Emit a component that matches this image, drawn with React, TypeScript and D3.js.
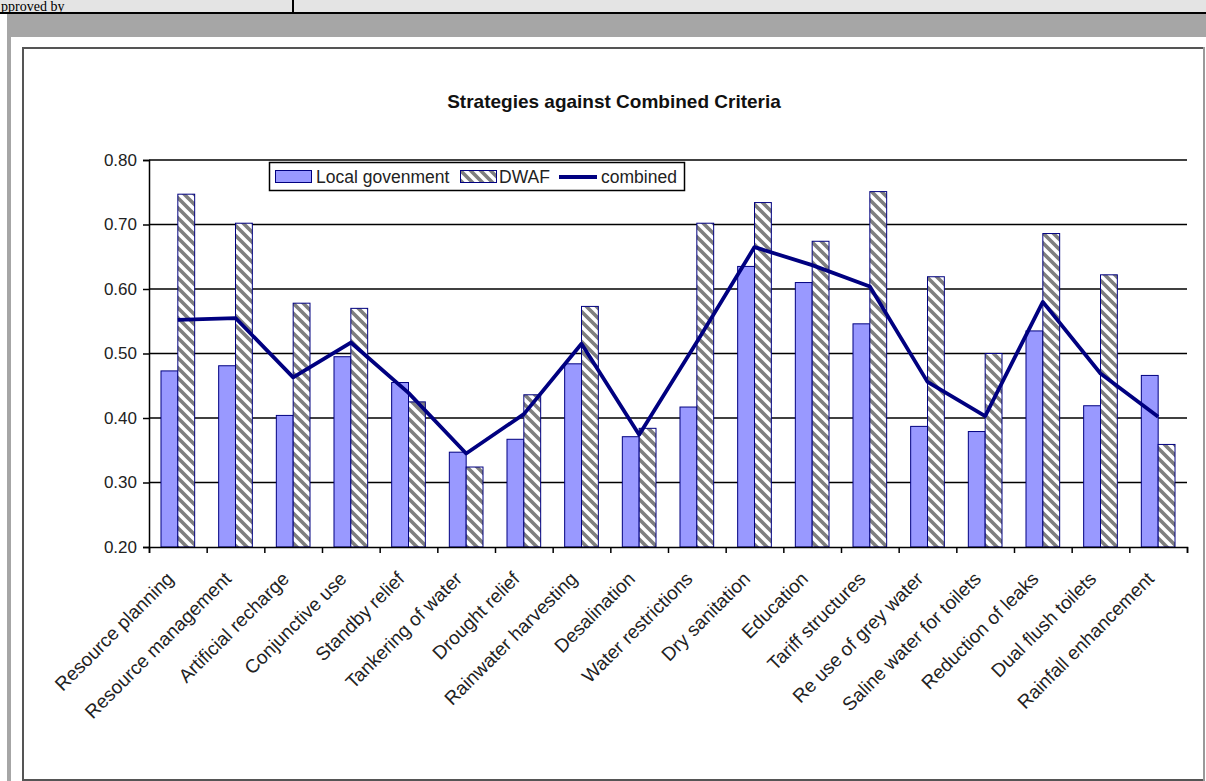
import React, { useRef, useEffect } from "react";
import * as d3 from "d3";

const categories = [
  "Resource planning",
  "Resource management",
  "Artificial recharge",
  "Conjunctive use",
  "Standby relief",
  "Tankering of water",
  "Drought relief",
  "Rainwater harvesting",
  "Desalination",
  "Water restrictions",
  "Dry sanitation",
  "Education",
  "Tariff structures",
  "Re use of grey water",
  "Saline water for toilets",
  "Reduction of leaks",
  "Dual flush toilets",
  "Rainfall enhancement",
];

const localGov = [
  0.473, 0.481, 0.404, 0.495, 0.455, 0.347, 0.367, 0.484, 0.371, 0.417, 0.635,
  0.61, 0.546, 0.387, 0.379, 0.535, 0.419, 0.466,
];

const dwaf = [
  0.747, 0.702, 0.578, 0.57, 0.425, 0.324, 0.436, 0.573, 0.384, 0.702, 0.734,
  0.674, 0.751, 0.619, 0.5, 0.686, 0.622, 0.359,
];

const combined = [
  0.552, 0.555, 0.463, 0.517, 0.439, 0.345, 0.406, 0.515, 0.374, 0.518, 0.665,
  0.637, 0.604, 0.456, 0.403, 0.58, 0.469, 0.402,
];

const yTicks = [0.2, 0.3, 0.4, 0.5, 0.6, 0.7, 0.8];
const legendLabels = ["Local govenment", "DWAF", "combined"];

const FONT = "'Liberation Sans', Arial, sans-serif";

const App = () => {
  const svgRef = useRef<SVGSVGElement>(null);

  useEffect(() => {
    const width = 1206;
    const height = 781;
    const plot = { left: 149, right: 1187, top: 160, bottom: 547 };

    const svg = d3.select(svgRef.current);
    svg.selectAll("*").remove();
    svg.attr("width", width).attr("height", height);

    // pattern for the DWAF bars (wide downward diagonal)
    const defs = svg.append("defs");
    const pat = defs
      .append("pattern")
      .attr("id", "hatch")
      .attr("patternUnits", "userSpaceOnUse")
      .attr("width", 10)
      .attr("height", 10);
    pat.append("rect").attr("width", 10).attr("height", 10).attr("fill", "#fff");
    pat
      .append("path")
      .attr("d", "M-2,-2L12,12M-2,8L2,12M8,-2L12,2")
      .attr("stroke", "#7f7f7f")
      .attr("stroke-width", 3.6);

    // page furniture around the chart
    svg.append("rect").attr("width", width).attr("height", height).attr("fill", "#fff");
    svg.append("rect").attr("x", 0).attr("y", 0).attr("width", width).attr("height", 12).attr("fill", "#e4e4e4");
    svg
      .append("text")
      .attr("x", 1)
      .attr("y", 10.5)
      .attr("font-family", "'Liberation Serif', serif")
      .attr("font-size", 14)
      .text("pproved by");
    svg.append("rect").attr("x", 0).attr("y", 12).attr("width", width).attr("height", 2).attr("fill", "#000");
    svg.append("rect").attr("x", 292).attr("y", 0).attr("width", 2).attr("height", 13).attr("fill", "#000");
    svg.append("rect").attr("x", 7).attr("y", 14).attr("width", width - 7).attr("height", 23).attr("fill", "#a6a6a6");
    svg.append("rect").attr("x", 7).attr("y", 37).attr("width", 4).attr("height", height - 37).attr("fill", "#a6a6a6");

    // chart frame
    svg
      .append("rect")
      .attr("x", 23)
      .attr("y", 48)
      .attr("width", 1181)
      .attr("height", 732)
      .attr("fill", "#fff")
      .attr("stroke", "#555")
      .attr("stroke-width", 2);
    svg.append("line").attr("x1", 1204).attr("x2", 1204).attr("y1", 47).attr("y2", height).attr("stroke", "#999").attr("stroke-width", 2);

    // scales
    const x = d3
      .scaleBand()
      .domain(categories)
      .range([plot.left, plot.right])
      .paddingInner(0.416)
      .paddingOuter(0.208);
    const xSub = d3
      .scaleBand()
      .domain(["local", "dwaf"])
      .range([0, x.bandwidth()]);
    const xEdge = d3
      .scaleLinear()
      .domain([0, categories.length])
      .range([plot.left, plot.right]);
    const y = d3.scaleLinear().domain([0.2, 0.8]).range([plot.bottom, plot.top]);

    // title
    svg
      .append("text")
      .attr("x", 614)
      .attr("y", 101)
      .attr("text-anchor", "middle")
      .attr("dominant-baseline", "central")
      .attr("font-family", FONT)
      .attr("font-weight", "bold")
      .attr("font-size", 19)
      .attr("fill", "#111")
      .text("Strategies against Combined Criteria");

    // gridlines
    svg
      .append("g")
      .selectAll("line")
      .data(yTicks.slice(1))
      .enter()
      .append("line")
      .attr("x1", plot.left)
      .attr("x2", plot.right)
      .attr("y1", (d) => y(d))
      .attr("y2", (d) => y(d))
      .attr("stroke", "#000")
      .attr("stroke-width", 1.5);

    // y axis
    const yAxis = svg
      .append("g")
      .attr("transform", `translate(${plot.left},0)`)
      .call(d3.axisLeft(y).tickValues(yTicks).tickFormat(d3.format(".2f")).tickSize(6).tickPadding(6));
    yAxis.select(".domain").attr("stroke", "#000").attr("stroke-width", 1.5);
    yAxis.selectAll(".tick line").attr("stroke", "#000").attr("stroke-width", 1.5);
    yAxis
      .selectAll(".tick text")
      .attr("font-family", FONT)
      .attr("font-size", 17)
      .attr("fill", "#222");

    // bars
    const bars = svg.append("g");
    bars
      .selectAll(".local")
      .data(localGov)
      .enter()
      .append("rect")
      .attr("x", (_, i) => x(categories[i])! + xSub("local")!)
      .attr("y", (d) => y(d))
      .attr("width", xSub.bandwidth())
      .attr("height", (d) => y(0.2) - y(d))
      .attr("fill", "#9999ff")
      .attr("stroke", "#000080")
      .attr("stroke-width", 1);
    bars
      .selectAll(".dwaf")
      .data(dwaf)
      .enter()
      .append("rect")
      .attr("x", (_, i) => x(categories[i])! + xSub("dwaf")!)
      .attr("y", (d) => y(d))
      .attr("width", xSub.bandwidth())
      .attr("height", (d) => y(0.2) - y(d))
      .attr("fill", "url(#hatch)")
      .attr("stroke", "#000080")
      .attr("stroke-width", 1);

    // x axis
    const xAxis = svg
      .append("g")
      .attr("transform", `translate(0,${plot.bottom})`)
      .call(
        d3
          .axisBottom(xEdge)
          .tickValues(d3.range(categories.length + 1))
          .tickSize(6)
          .tickFormat(() => "")
      );
    xAxis.select(".domain").attr("stroke", "#000").attr("stroke-width", 1.5);
    xAxis.selectAll(".tick line").attr("stroke", "#000").attr("stroke-width", 1.5);

    svg
      .append("g")
      .selectAll("text")
      .data(categories)
      .enter()
      .append("text")
      .attr("transform", (d) => `translate(${x(d)! + x.bandwidth() / 2 - 3},${plot.bottom + 33}) rotate(-45)`)
      .attr("text-anchor", "end")
      .attr("font-family", FONT)
      .attr("font-size", 19)
      .attr("fill", "#222")
      .text((d) => d);

    // combined line
    const line = d3
      .line<number>()
      .x((_, i) => x(categories[i])! + x.bandwidth() / 2)
      .y((d) => y(d));
    svg
      .append("path")
      .datum(combined)
      .attr("fill", "none")
      .attr("stroke", "#000080")
      .attr("stroke-width", 3.8)
      .attr("stroke-linejoin", "round")
      .attr("d", line);

    // legend
    const legend = svg.append("g");
    legend
      .append("rect")
      .attr("x", 269.5)
      .attr("y", 162.5)
      .attr("width", 415)
      .attr("height", 28)
      .attr("fill", "#fff")
      .attr("stroke", "#000")
      .attr("stroke-width", 1.5);
    legend
      .append("rect")
      .attr("x", 275.5)
      .attr("y", 170.5)
      .attr("width", 36)
      .attr("height", 12)
      .attr("fill", "#9999ff")
      .attr("stroke", "#000080");
    legend
      .append("rect")
      .attr("x", 460.5)
      .attr("y", 170.5)
      .attr("width", 36)
      .attr("height", 12)
      .attr("fill", "url(#hatch)")
      .attr("stroke", "#000080");
    legend
      .append("line")
      .attr("x1", 559)
      .attr("x2", 597)
      .attr("y1", 177)
      .attr("y2", 177)
      .attr("stroke", "#000080")
      .attr("stroke-width", 4);
    const legendX = [316, 499, 601];
    legend
      .selectAll("text")
      .data(legendLabels)
      .enter()
      .append("text")
      .attr("x", (_, i) => legendX[i])
      .attr("y", 177)
      .attr("dominant-baseline", "central")
      .attr("font-family", FONT)
      .attr("font-size", 17.5)
      .attr("fill", "#222")
      .text((d) => d);
  }, []);

  return (
    <svg
      ref={svgRef}
      style={{ position: "absolute", left: 0, top: 0, display: "block" }}
    ></svg>
  );
};

export default App;
